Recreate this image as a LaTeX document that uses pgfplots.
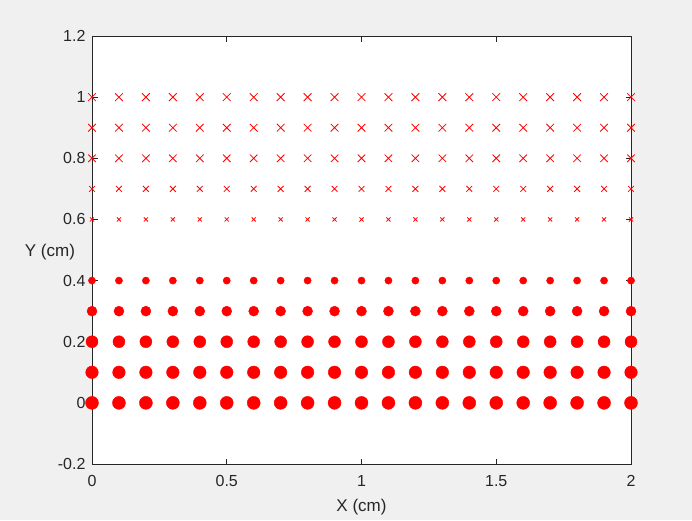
\documentclass[border=0pt]{standalone}
\usepackage{pgfplots}
\pgfplotsset{compat=1.18}
\usepackage{fontspec}
\setmainfont{Liberation Sans}
\definecolor{bgc}{HTML}{F0F0F0}
\definecolor{axc}{HTML}{262626}
\begin{document}
\begin{tikzpicture}[x=1pt,y=1pt]
\fill[bgc] (0,0) rectangle (692,520);
\useasboundingbox (0,0) rectangle (692,520);
\begin{axis}[
  at={(92pt,56pt)}, anchor=south west,
  scale only axis, width=539pt, height=428pt,
  xmin=0, xmax=2, ymin=-0.2, ymax=1.2,
  xtick={0,0.5,1,1.5,2}, ytick={-0.2,0,0.2,0.4,0.6,0.8,1,1.2},
  xticklabels={0,0.5,1,1.5,2},
  yticklabels={-0.2,0,0.2,0.4,0.6,0.8,1,1.2},
  tick pos=both, tick align=inside, major tick length=5.5pt,
  axis line style={axc, line width=0.7pt},
  every tick/.style={axc, line width=0.7pt},
  ticklabel style={font=\fontsize{16}{18}\selectfont, text=axc},
  xticklabel style={yshift=-8pt},
  yticklabel style={xshift=-3pt},
  xlabel={X (cm)}, ylabel={Y (cm)},
  label style={font=\fontsize{17}{19}\selectfont, text=axc},
  xlabel style={at={(axis description cs:0.5,-0.075)}, anchor=north},
  ylabel style={rotate=-90, at={(axis description cs:-0.025,0.495)}, anchor=east},
  axis background/.style={fill=white},
  clip=false, axis on top,
]
\pgfplotsset{dot/.style={only marks, mark=*, red, mark options={fill=red, draw=red}}}
\pgfplotsset{crs/.style={only marks, mark=x, red, mark options={line width=0.8pt}}}
\addplot[dot, mark size=6.5pt] coordinates {(0,0)(0.1,0)(0.2,0)(0.3,0)(0.4,0)(0.5,0)(0.6,0)(0.7,0)(0.8,0)(0.9,0)(1,0)(1.1,0)(1.2,0)(1.3,0)(1.4,0)(1.5,0)(1.6,0)(1.7,0)(1.8,0)(1.9,0)(2,0)};
\addplot[dot, mark size=6.3pt] coordinates {(0,0.1)(0.1,0.1)(0.2,0.1)(0.3,0.1)(0.4,0.1)(0.5,0.1)(0.6,0.1)(0.7,0.1)(0.8,0.1)(0.9,0.1)(1,0.1)(1.1,0.1)(1.2,0.1)(1.3,0.1)(1.4,0.1)(1.5,0.1)(1.6,0.1)(1.7,0.1)(1.8,0.1)(1.9,0.1)(2,0.1)};
\addplot[dot, mark size=6pt] coordinates {(0,0.2)(0.1,0.2)(0.2,0.2)(0.3,0.2)(0.4,0.2)(0.5,0.2)(0.6,0.2)(0.7,0.2)(0.8,0.2)(0.9,0.2)(1,0.2)(1.1,0.2)(1.2,0.2)(1.3,0.2)(1.4,0.2)(1.5,0.2)(1.6,0.2)(1.7,0.2)(1.8,0.2)(1.9,0.2)(2,0.2)};
\addplot[dot, mark size=5pt] coordinates {(0,0.3)(0.1,0.3)(0.2,0.3)(0.3,0.3)(0.4,0.3)(0.5,0.3)(0.6,0.3)(0.7,0.3)(0.8,0.3)(0.9,0.3)(1,0.3)(1.1,0.3)(1.2,0.3)(1.3,0.3)(1.4,0.3)(1.5,0.3)(1.6,0.3)(1.7,0.3)(1.8,0.3)(1.9,0.3)(2,0.3)};
\addplot[dot, mark size=3.6pt] coordinates {(0,0.4)(0.1,0.4)(0.2,0.4)(0.3,0.4)(0.4,0.4)(0.5,0.4)(0.6,0.4)(0.7,0.4)(0.8,0.4)(0.9,0.4)(1,0.4)(1.1,0.4)(1.2,0.4)(1.3,0.4)(1.4,0.4)(1.5,0.4)(1.6,0.4)(1.7,0.4)(1.8,0.4)(1.9,0.4)(2,0.4)};
\addplot[crs, mark size=2.9pt] coordinates {(0,0.6)(0.1,0.6)(0.2,0.6)(0.3,0.6)(0.4,0.6)(0.5,0.6)(0.6,0.6)(0.7,0.6)(0.8,0.6)(0.9,0.6)(1,0.6)(1.1,0.6)(1.2,0.6)(1.3,0.6)(1.4,0.6)(1.5,0.6)(1.6,0.6)(1.7,0.6)(1.8,0.6)(1.9,0.6)(2,0.6)};
\addplot[crs, mark size=4.1pt] coordinates {(0,0.7)(0.1,0.7)(0.2,0.7)(0.3,0.7)(0.4,0.7)(0.5,0.7)(0.6,0.7)(0.7,0.7)(0.8,0.7)(0.9,0.7)(1,0.7)(1.1,0.7)(1.2,0.7)(1.3,0.7)(1.4,0.7)(1.5,0.7)(1.6,0.7)(1.7,0.7)(1.8,0.7)(1.9,0.7)(2,0.7)};
\addplot[crs, mark size=5.3pt] coordinates {(0,0.8)(0.1,0.8)(0.2,0.8)(0.3,0.8)(0.4,0.8)(0.5,0.8)(0.6,0.8)(0.7,0.8)(0.8,0.8)(0.9,0.8)(1,0.8)(1.1,0.8)(1.2,0.8)(1.3,0.8)(1.4,0.8)(1.5,0.8)(1.6,0.8)(1.7,0.8)(1.8,0.8)(1.9,0.8)(2,0.8)};
\addplot[crs, mark size=5.4pt] coordinates {(0,0.9)(0.1,0.9)(0.2,0.9)(0.3,0.9)(0.4,0.9)(0.5,0.9)(0.6,0.9)(0.7,0.9)(0.8,0.9)(0.9,0.9)(1,0.9)(1.1,0.9)(1.2,0.9)(1.3,0.9)(1.4,0.9)(1.5,0.9)(1.6,0.9)(1.7,0.9)(1.8,0.9)(1.9,0.9)(2,0.9)};
\addplot[crs, mark size=5.5pt] coordinates {(0,1)(0.1,1)(0.2,1)(0.3,1)(0.4,1)(0.5,1)(0.6,1)(0.7,1)(0.8,1)(0.9,1)(1,1)(1.1,1)(1.2,1)(1.3,1)(1.4,1)(1.5,1)(1.6,1)(1.7,1)(1.8,1)(1.9,1)(2,1)};
\end{axis}
\end{tikzpicture}
\end{document}
